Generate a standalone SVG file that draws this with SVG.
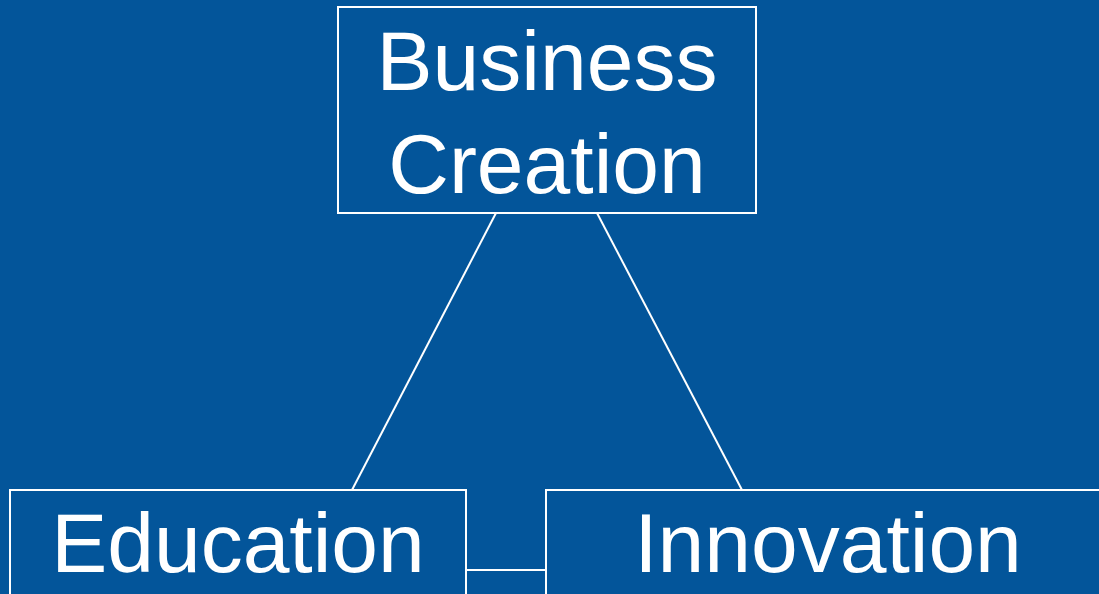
<svg xmlns="http://www.w3.org/2000/svg" width="1099" height="594" viewBox="0 0 1099 594">
<style>
.box{fill:none;stroke:#ffffff;stroke-width:2}
.lbl{fill:#ffffff;font-family:"Liberation Sans",Arial,sans-serif;font-size:84px;text-anchor:middle}
.conn{stroke:#ffffff;stroke-width:2;fill:none}
</style>
<rect x="0" y="0" width="1099" height="594" fill="#03559A"/>
<g id="connectors">
<line class="conn" x1="496" y1="213" x2="352" y2="490"/>
<line class="conn" x1="597" y1="213" x2="742" y2="490"/>
<line class="conn" x1="466" y1="570" x2="546" y2="570"/>
</g>
<g id="business-creation">
<rect class="box" x="338" y="7" width="418" height="206"/>
<text class="lbl" x="547" y="90">Business</text>
<text class="lbl" x="547" y="193">Creation</text>
</g>
<g id="education">
<rect class="box" x="10" y="490" width="456" height="130"/>
<text class="lbl" x="238" y="572">Education</text>
</g>
<g id="innovation">
<rect class="box" x="546" y="490" width="580" height="130"/>
<text class="lbl" x="828" y="572">Innovation</text>
</g>
</svg>
